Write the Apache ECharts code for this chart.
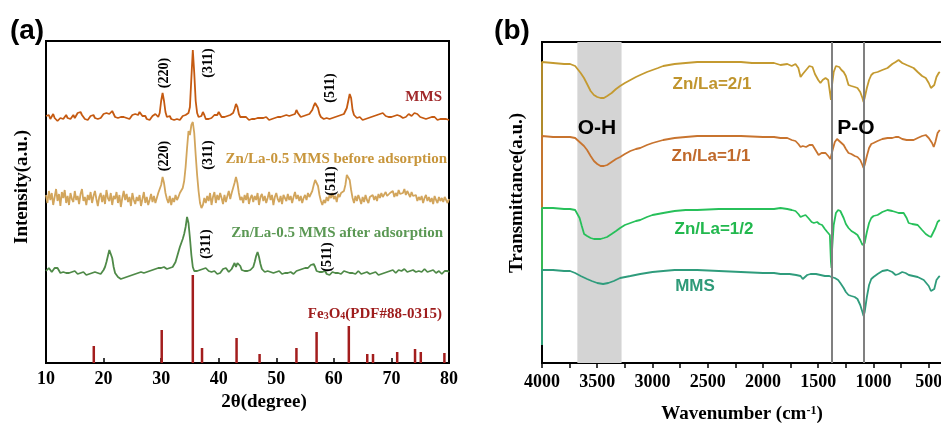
<!DOCTYPE html>
<html><head><meta charset="utf-8">
<script src="https://cdn.jsdelivr.net/npm/echarts@6/dist/echarts.min.js"></script>
<style>html,body{margin:0;padding:0;background:#fff}#c{width:941px;height:423px}</style>
</head><body><div id="c"></div>
<script>
// ---------- Panel (a): XRD, 2θ from 10 to 80 in 0.25° steps ----------
const xrdStart = 10, xrdStep = 0.25;
const xrdMMS = [
247,245,248,244, 246,249,245,243, 242,241,245,247, 244,246,248,245, 247,244,246,248,
245,247,250,249, 251,248,246,244, 246,243,245,247, 246,248,245,247, 244,246,245,247,
249,248,250,251, 249,251,252,249, 246,244,245,247, 246,244,246,248, 245,247,244,246,
248,246,249,250, 248,251,249,247, 245,247,244,246, 243,245,247,246, 249,247,246,250,
262,270,262,251, 246,245,247,244, 246,243,245,244, 246,243,245,247, 245,248,247,250,
256,285,313,290, 262,250,246,248, 247,251,248,244, 246,244,246,245, 247,248,246,248,
251,249,246,244, 246,245,247,246, 248,246,250,254, 259,256,249,246, 245,246,244,246,
245,243,245,244, 246,244,246,245, 247,245,243,245, 244,246,245,243, 245,244,246,245,
247,246,244,246, 245,247,246,248, 246,247,245,248, 247,249,253,250, 248,246,245,247,
246,248,247,249, 250,253,257,260, 262,255,249,246, 245,244,246,245, 247,244,246,245,
247,246,248,247, 246,248,247,249, 250,255,262,269, 265,253,248,246, 245,244,246,245,
243,245,244,246, 245,247,246,248, 247,246,248,247, 249,248,250,249, 247,245,246,244,
246,245,247,246, 248,249,247,246, 245,247,246,248, 249,248,247,249, 250,251,249,247,
246,247,245,246, 244,246,245,247, 246,244,246,245, 243,245,244,245, 244,246,244,243,
243];
const xrdBefore = [
168,160,172,163, 170,158,166,174, 162,169,157,171, 165,173,160,167, 158,170,164,161,
172,163,167,159, 169,174,162,166, 158,168,163,171, 160,167,172,164, 157,166,170,161,
168,159,173,165, 162,170,158,167, 164,171,160,168, 156,165,172,163, 169,161,166,157,
170,163,159,166, 162,168,157,164, 171,160,166,158, 163,169,161,167, 160,165,170,168,
178,186,180,170, 164,160,167,158, 165,161,168,163, 166,170,169,175, 182,196,215,232,
228,238,241,230, 208,188,172,160, 155,158,165,160, 167,162,170,158, 166,171,160,168,
163,170,165,159, 168,161,167,172, 164,170,175,180, 186,180,170,163, 166,160,168,163,
170,159,165,168, 161,167,163,170, 158,166,169,162, 167,160,165,171, 163,168,158,166,
170,164,161,167, 159,168,165,162, 169,163,167,160, 166,171,164,168, 162,167,160,165,
168,163,170,166, 169,172,178,183, 185,177,168,162, 158,163,160,166, 162,168,165,170,
164,167,161,169, 166,170,168,172, 178,188,190,183, 173,165,160,167, 162,168,164,159,
166,161,168,163, 160,166,164,168, 163,167,162,169, 165,170,166,168, 171,167,165,170,
168,172,166,170, 167,173,169,171, 170,174,168,172, 169,166,171,167, 165,168,162,166,
163,167,160,165, 168,162,166,161, 165,159,167,163, 160,166,162,165, 161,166,163,160,
164];
const xrdAfter = [
92,94,95,93, 91,93,95,97, 95,93,90,92, 91,89,90,92, 90,89,91,90,
92,91,89,88, 90,89,91,90, 88,90,89,91, 90,92,91,89, 90,88,89,91,
93,96,101,107, 113,114,105,96, 90,88,86,85, 84,83,85,87, 86,88,87,89,
88,90,89,91, 90,89,91,92, 90,92,91,93, 92,91,93,92, 94,93,95,94,
95,94,96,95, 94,96,95,97, 96,98,101,106, 111,116,120,124, 129,136,146,140,
125,108,96,92, 90,92,91,93, 92,94,93,95, 94,92,93,91, 90,92,91,89,
91,90,92,94, 96,95,93,91, 92,94,96,100, 96,100,101,97, 93,91,92,94,
92,91,93,94, 96,101,107,111, 106,99,94,92, 91,93,92,90, 91,89,90,92,
91,90,92,90, 89,91,90,88, 90,89,91,90, 89,90,92,91, 93,95,94,96,
95,96,95,97, 98,100,99,96, 92,90,91,89, 91,90,92,89, 90,88,89,91,
89,90,88,90, 91,89,90,92, 90,91,89,90, 92,90,91,89, 90,92,91,89,
88,90,89,91, 90,89,88,90, 89,91,90,88, 90,89,91,90, 92,91,90,92,
91,93,92,90, 91,93,94,92, 93,94,92,91, 90,92,91,93, 92,91,93,92,
90,91,93,94, 92,91,90,92, 91,93,92,90, 91,92,90,89, 91,92,90,92,
91];
// Fe3O4 standard card PDF#88-0315: positions and relative heights
const pdfPos    = [18.3, 30.1, 35.5, 37.1, 43.1, 47.1, 53.5, 57.0, 62.6, 65.8, 66.8, 71.0, 74.1, 75.1, 79.2];
const pdfHeight = [17, 33, 88, 15, 25, 9, 15, 31, 37, 9, 9, 11, 14, 11, 10];
const xrdTicks = [10, 20, 30, 40, 50, 60, 70, 80];

// ---------- Panel (b): FTIR [wavenumber, transmittance a.u.] ----------
const ftir21 = [[4000,18],[4000,301],[3900,300],[3800,299],[3746,299],[3700,297],[3683,295],[3650,290],[3620,285],[3592,279],[3560,272],[3530,268],[3500,266],[3470,265],[3440,265],[3410,267],[3370,270],[3330,274],[3293,277],[3250,280],[3200,283],[3150,286],[3111,288],[3050,291],[3000,293],[2950,295],[2903,297],[2800,299],[2700,300],[2595,301],[2500,301],[2400,301],[2300,301],[2200,301],[2100,300],[2000,300],[1900,300],[1842,298],[1780,299],[1740,297],[1706,299],[1680,295],[1660,286],[1640,289],[1610,293],[1580,297],[1552,296],[1530,289],[1500,283],[1480,280],[1460,283],[1434,285],[1410,283],[1395,281],[1385,263],[1380,262],[1375,278],[1360,291],[1340,297],[1325,298],[1310,296],[1290,293],[1270,291],[1250,287],[1226,278],[1200,277],[1170,276],[1145,275],[1120,271],[1100,265],[1090,261],[1080,265],[1060,275],[1040,283],[1020,288],[1000,290],[963,291],[920,293],[873,295],[830,299],[800,301],[773,303],[740,300],[700,298],[637,295],[600,291],[560,287],[527,285],[500,280],[480,275],[464,273],[450,278],[430,286],[410,290],[400,291]];
const ftir11 = [[4000,18],[4000,227],[3900,226],[3800,226],[3746,226],[3700,225],[3683,223],[3650,220],[3620,217],[3592,213],[3560,207],[3530,202],[3500,199],[3470,197],[3440,197],[3410,198],[3370,201],[3330,204],[3293,206],[3250,209],[3200,212],[3150,214],[3111,215],[3050,218],[3000,220],[2903,223],[2800,225],[2700,226],[2595,227],[2400,227],[2200,227],[2000,226],[1900,226],[1842,225],[1780,225],[1740,223],[1706,222],[1680,219],[1660,216],[1640,217],[1610,216],[1580,218],[1552,218],[1530,214],[1497,208],[1470,210],[1434,210],[1410,207],[1390,204],[1380,202],[1370,213],[1350,221],[1330,224],[1315,223],[1290,220],[1270,218],[1250,214],[1226,210],[1200,209],[1170,207],[1145,206],[1120,203],[1100,198],[1090,195],[1080,198],[1060,207],[1040,215],[1020,219],[1000,220],[963,222],[920,224],[873,225],[830,225],[800,226],[773,226],[740,224],[700,223],[637,223],[600,225],[560,227],[527,228],[500,225],[470,220],[455,216],[440,221],[420,230],[400,233]];
const ftir12 = [[4000,18],[4000,155],[3900,155],[3800,154],[3746,154],[3700,153],[3683,151],[3660,145],[3640,137],[3619,129],[3610,127],[3592,127],[3560,125],[3530,124],[3500,124],[3470,124],[3440,125],[3411,126],[3370,129],[3330,132],[3293,135],[3250,138],[3200,140],[3150,142],[3111,143],[3050,146],[3000,148],[2903,150],[2800,152],[2700,153],[2595,153],[2400,154],[2200,154],[2000,154],[1900,154],[1842,155],[1780,154],[1740,153],[1706,152],[1680,149],[1660,146],[1640,147],[1615,148],[1590,145],[1560,141],[1540,140],[1510,141],[1490,139],[1465,138],[1440,134],[1418,131],[1395,128],[1385,101],[1380,95],[1375,113],[1360,138],[1340,150],[1320,153],[1300,152],[1270,145],[1250,139],[1226,135],[1200,132],[1170,130],[1145,128],[1120,123],[1100,118],[1090,116],[1080,120],[1060,131],[1040,140],[1020,145],[1000,147],[963,148],[920,151],[873,153],[830,152],[800,151],[773,150],[727,150],[700,145],[682,140],[650,139],[600,138],[560,133],[527,129],[500,127],[480,126],[464,127],[440,135],[420,141],[400,143]];
const ftirMMS = [[4000,18],[4000,93],[3900,93],[3800,92],[3746,92],[3700,90],[3650,87],[3592,84],[3550,82],[3500,80],[3447,79],[3400,80],[3350,82],[3293,85],[3200,87],[3111,89],[3000,91],[2903,92],[2800,93],[2700,93],[2595,93],[2400,92],[2200,91],[2000,90],[1900,90],[1842,89],[1760,89],[1700,88],[1660,87],[1640,84],[1620,86],[1600,88],[1570,89],[1552,90],[1520,89],[1480,88],[1440,87],[1400,87],[1380,86],[1350,85],[1320,83],[1300,80],[1270,75],[1250,71],[1226,68],[1200,67],[1170,66],[1145,64],[1120,58],[1100,51],[1090,47],[1080,51],[1060,66],[1040,78],[1020,84],[1000,86],[963,89],[920,92],[873,93],[830,91],[800,88],[773,89],[740,91],[710,90],[680,88],[640,87],[600,86],[545,83],[500,77],[480,72],[464,70],[450,74],[430,83],[410,86],[400,87]];
const ohBand = [3680, 3280];
const poLines = [1380, 1092];
const ftirLabelTicks = [4000, 3500, 3000, 2500, 2000, 1500, 1000, 500];
const ftirMinorTicks = [4000, 3750, 3500, 3250, 3000, 2750, 2500, 2250, 2000, 1750, 1500, 1250, 1000, 750, 500];

const toXY = arr => arr.map((v, i) => [+(xrdStart + i * xrdStep).toFixed(2), v]);

const serif = '"Liberation Serif","Times New Roman",serif';
const sans = '"Liberation Sans",Arial,sans-serif';

function txt(text, x, y, size, color, family, opt) {
  opt = opt || {};
  const align = opt.align || 'center';
  const el = {
    type: 'text', x: x, y: y, rotation: opt.rot || 0, z: 100,
    style: {
      text: text, fill: color,
      font: 'bold ' + size + 'px ' + family,
      align: align, verticalAlign: 'middle',
      textAlign: align, textVerticalAlign: 'middle'
    }
  };
  if (opt.rich) el.style.rich = opt.rich;
  return el;
}
const R90 = Math.PI / 2;
const C = {
  mms: '#c55a11', before: '#d2a55c', after: '#4f8a48', pdf: '#a31d1d',
  g21: '#c49a30', o11: '#c8742f', g12: '#27c05a', teal: '#2f9c7c'
};

const chart = echarts.init(document.getElementById('c'), null, { renderer: 'canvas' });
chart.setOption({
  animation: false,
  backgroundColor: '#fff',
  grid: [
    { left: 46, top: 41, width: 403, height: 322, show: true, borderColor: '#000', borderWidth: 2, backgroundColor: 'transparent', containLabel: false, outerBoundsMode: 'none' },
    { left: 542, top: 42, width: 400, height: 321, show: true, borderColor: '#000', borderWidth: 2, backgroundColor: 'transparent', containLabel: false, outerBoundsMode: 'none' }
  ],
  xAxis: [
    { type: 'value', gridIndex: 0, min: 10, max: 80, interval: 10,
      axisLine: { show: true, lineStyle: { color: '#000', width: 2 } },
      axisTick: { show: true, inside: true, length: 5, lineStyle: { color: '#000', width: 1.5 } },
      axisLabel: { margin: 7, color: '#000', fontFamily: serif, fontWeight: 'bold', fontSize: 18, customValues: xrdTicks },
      splitLine: { show: false } },
    { type: 'value', gridIndex: 1, min: 380, max: 4000, inverse: true,
      axisLine: { show: true, lineStyle: { color: '#000', width: 2 } },
      axisTick: { show: true, inside: false, length: 5, customValues: ftirMinorTicks, lineStyle: { color: '#000', width: 1.5 } },
      axisLabel: { margin: 10, color: '#000', fontFamily: serif, fontWeight: 'bold', fontSize: 18, customValues: ftirLabelTicks, formatter: v => String(v) },
      splitLine: { show: false } }
  ],
  yAxis: [
    { type: 'value', gridIndex: 0, min: 0, max: 322, axisLine: { show: true, lineStyle: { color: '#000', width: 2 } }, axisTick: { show: false }, axisLabel: { show: false }, splitLine: { show: false } },
    { type: 'value', gridIndex: 1, min: 0, max: 321, axisLine: { show: true, lineStyle: { color: '#000', width: 2 } }, axisTick: { show: false }, axisLabel: { show: false }, splitLine: { show: false } }
  ],
  series: [
    { type: 'line', xAxisIndex: 0, yAxisIndex: 0, data: toXY(xrdMMS), symbol: 'none', lineStyle: { color: C.mms, width: 1.8 } },
    { type: 'line', xAxisIndex: 0, yAxisIndex: 0, data: toXY(xrdBefore), symbol: 'none', lineStyle: { color: C.before, width: 1.8 } },
    { type: 'line', xAxisIndex: 0, yAxisIndex: 0, data: toXY(xrdAfter), symbol: 'none', lineStyle: { color: C.after, width: 1.8 } },
    { type: 'bar', xAxisIndex: 0, yAxisIndex: 0, data: pdfPos.map((p, i) => [p, pdfHeight[i]]), barWidth: 2.5, itemStyle: { color: C.pdf } },

    { type: 'line', xAxisIndex: 1, yAxisIndex: 1, data: ftir21, symbol: 'none', lineStyle: { color: C.g21, width: 1.8 },
      markArea: { silent: true, itemStyle: { color: '#d4d4d4' }, data: [[{ xAxis: ohBand[0] }, { xAxis: ohBand[1] }]] } },
    { type: 'line', xAxisIndex: 1, yAxisIndex: 1, data: ftir11, symbol: 'none', lineStyle: { color: C.o11, width: 1.8 } },
    { type: 'line', xAxisIndex: 1, yAxisIndex: 1, data: ftir12, symbol: 'none', lineStyle: { color: C.g12, width: 1.8 } },
    { type: 'line', xAxisIndex: 1, yAxisIndex: 1, data: ftirMMS, symbol: 'none', lineStyle: { color: C.teal, width: 1.8 },
      markLine: { silent: true, symbol: 'none', label: { show: false }, lineStyle: { color: '#808080', width: 2, type: 'solid' },
        data: poLines.map(v => ({ xAxis: v })) } }
  ],
  graphic: [
    txt('(a)', 27, 31, 28, '#000', sans),
    txt('(b)', 512, 31, 28, '#000', sans),
    txt('(220)', 164, 73, 14, '#000', serif, { rot: R90 }),
    txt('(311)', 208, 63, 14, '#000', serif, { rot: R90 }),
    txt('(511)', 330, 88, 14, '#000', serif, { rot: R90 }),
    txt('MMS', 442, 97, 15, '#a0282a', serif, { align: 'right' }),
    txt('(220)', 164, 156, 14, '#000', serif, { rot: R90 }),
    txt('(311)', 208, 155, 14, '#000', serif, { rot: R90 }),
    txt('Zn/La-0.5 MMS before adsorption', 447, 159, 15, '#c8963c', serif, { align: 'right' }),
    txt('(511)', 331, 181, 14, '#000', serif, { rot: R90 }),
    txt('Zn/La-0.5 MMS after adsorption', 443, 233, 15, '#5b9854', serif, { align: 'right' }),
    txt('(311)', 206, 244, 14, '#000', serif, { rot: R90 }),
    txt('(511)', 327, 257, 14, '#000', serif, { rot: R90 }),
    txt('Fe{s|3}O{s|4}(PDF#88-0315)', 442, 314, 15, '#9e1c1c', serif, { align: 'right',
      rich: { s: { fontSize: 10, fontWeight: 'bold', fontFamily: serif, fill: '#9e1c1c', verticalAlign: 'bottom' } } }),
    txt('Intensity(a.u.)', 22, 187, 19, '#000', serif, { rot: R90 }),
    txt('2θ(degree)', 264, 402, 19, '#000', serif),
    txt('Zn/La=2/1', 712, 84, 17, '#c0952e', sans),
    txt('O-H', 597, 128, 21, '#000', sans),
    txt('P-O', 856, 128, 21, '#000', sans),
    txt('Zn/La=1/1', 711, 156, 17, '#c0692b', sans),
    txt('Zn/La=1/2', 714, 229, 17, '#22b84e', sans),
    txt('MMS', 695, 286, 17, '#2e9a78', sans),
    txt('Transmittance(a.u.)', 517, 193, 19, '#000', serif, { rot: R90 }),
    txt('Wavenumber (cm{p|-1})', 742, 414, 19, '#000', serif, {
      rich: { p: { fontSize: 12, fontWeight: 'bold', fontFamily: serif, fill: '#000', verticalAlign: 'top' } } })
  ]
});
</script></body></html>
